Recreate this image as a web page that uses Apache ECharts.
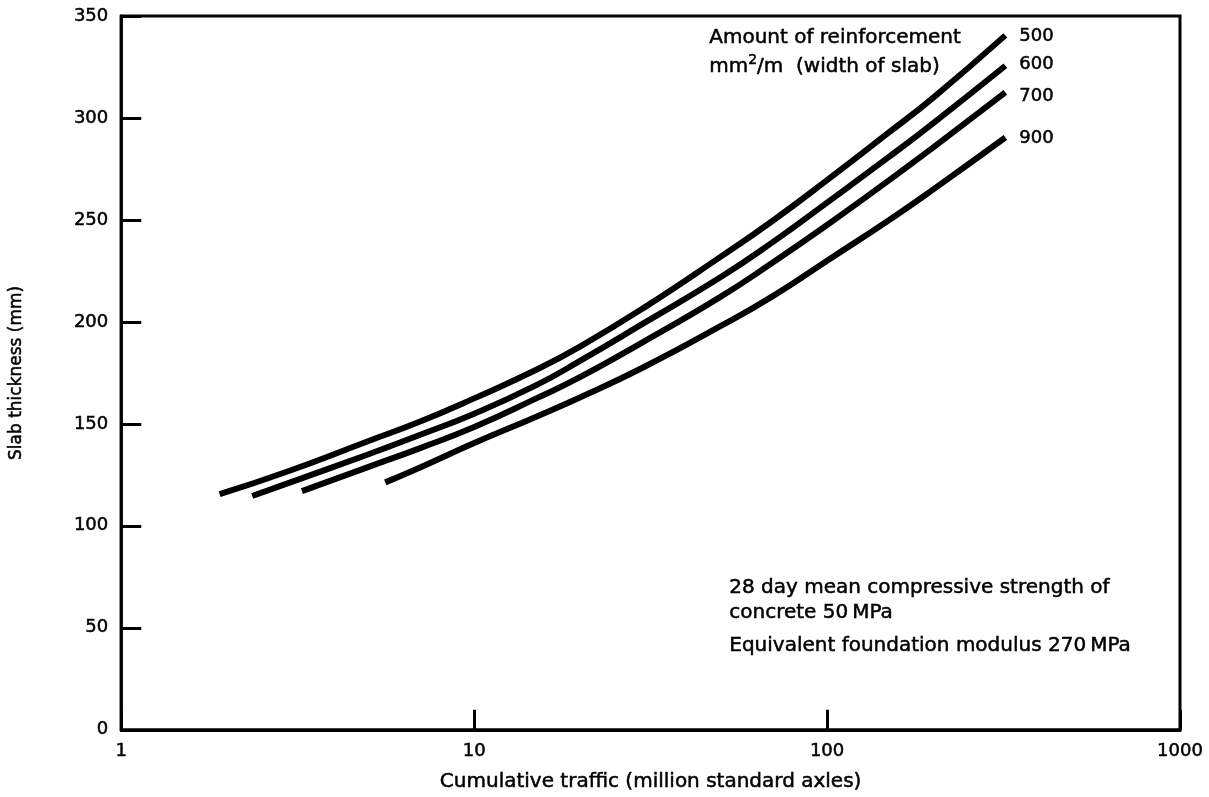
<!DOCTYPE html>
<html><head><meta charset="utf-8">
<script src="https://cdn.jsdelivr.net/npm/echarts@6/dist/echarts.min.js"></script>
<style>html,body{margin:0;padding:0;background:#fff}#c{width:1209px;height:797px}</style>
</head><body><div id="c"></div>
<script>
// Reinforcement amounts (mm2/m) — series names
const seriesNames = ['500', '600', '700', '900'];
// Cumulative traffic (million standard axles) and slab thickness (mm)
const traffic500 = [1.9, 3, 5, 7, 10, 15, 20, 30, 50, 70, 100, 150, 200, 320];
const thick500   = [115.5, 127, 141.5, 151, 162.5, 176.5, 188, 206.5, 232, 249.5, 269.5, 293, 310, 340.5];
const traffic600 = [2.35, 3, 5, 7, 10, 15, 20, 30, 50, 70, 100, 150, 200, 320];
const thick600   = [114.6, 121.2, 135, 144.5, 155, 169, 181, 199, 222, 239, 258.5, 281, 297.5, 325.6];
const traffic700 = [3.25, 5, 7, 10, 15, 20, 30, 50, 70, 100, 150, 200, 320];
const thick700   = [117, 128.8, 138, 148.5, 162.5, 173, 190, 212.4, 229, 247.5, 269.5, 285.6, 312.5];
const traffic900 = [5.6, 7, 10, 15, 20, 30, 50, 70, 100, 150, 200, 320];
const thick900   = [121.3, 128.5, 140.6, 153.5, 163, 177.5, 198, 212.5, 230, 250, 265, 290.4];
const xTickLabels = ['1', '10', '100', '1000'];
const yTickLabels = ['0', '50', '100', '150', '200', '250', '300', '350'];

const FONT = 'DejaVu Sans';
const traffics = [traffic500, traffic600, traffic700, traffic900];
const thicks = [thick500, thick600, thick700, thick900];
const labelOffsets = [[0, 1], [0, -1], [0, 4], [0, 1]];
const txt = {textBorderColor: '#000', textBorderWidth: 0.5};
const gtxt = {fill: '#000', stroke: '#000', lineWidth: 0.5};

const chart = echarts.init(document.getElementById('c'), null, {renderer: 'canvas'});
chart.setOption({
  backgroundColor: '#fff',
  animation: false,
  textStyle: {fontFamily: FONT, color: '#000'},
  grid: {left: 120, right: 29, top: 16, bottom: 67, show: true, borderColor: '#000', borderWidth: 3},
  xAxis: {
    type: 'log', logBase: 10, min: 1, max: 1000,
    name: 'Cumulative traffic (million standard axles)',
    nameLocation: 'middle', nameGap: 42,
    nameTextStyle: Object.assign({fontFamily: FONT, fontSize: 20, color: '#000'}, txt),
    axisLine: {show: true, lineStyle: {color: '#000', width: 3}},
    axisTick: {show: true, inside: true, length: 20, lineStyle: {color: '#000', width: 3}},
    splitLine: {show: false},
    minorTick: {show: false},
    axisLabel: Object.assign({
      margin: 13, fontSize: 18, fontFamily: FONT, color: '#000',
      formatter: v => xTickLabels[Math.round(Math.log10(v))]
    }, txt)
  },
  yAxis: {
    type: 'value', min: 0, max: 350, interval: 50,
    name: 'Slab thickness (mm)',
    nameLocation: 'middle', nameGap: 96,
    nameTextStyle: Object.assign({fontFamily: FONT, fontSize: 17, color: '#000'}, txt),
    axisLine: {show: true, lineStyle: {color: '#000', width: 3}},
    axisTick: {show: true, inside: true, length: 20, lineStyle: {color: '#000', width: 3}},
    splitLine: {show: false},
    axisLabel: Object.assign({
      margin: 13, fontSize: 18, fontFamily: FONT, color: '#000',
      formatter: v => yTickLabels[Math.round(v / 50)]
    }, txt)
  },
  series: seriesNames.map((n, i) => ({
    name: n,
    type: 'line',
    data: traffics[i].map((x, j) => [x, thicks[i][j]]),
    showSymbol: false,
    smooth: 0.5,
    lineStyle: {color: '#000', width: 6, cap: 'butt'},
    endLabel: Object.assign({
      show: true, formatter: '{a}', distance: 14, offset: labelOffsets[i],
      fontFamily: FONT, fontSize: 18, color: '#000'
    }, txt),
    silent: true
  })),
  graphic: [
    {type: 'text', left: 709, top: 28, style: Object.assign({text: 'Amount of reinforcement', font: '20px "DejaVu Sans"'}, gtxt)},
    {type: 'text', left: 709, top: 53, style: {
      text: '{n|mm}{s|2}{n|/m  (width of slab)}',
      rich: {
        n: Object.assign({fontFamily: FONT, fontSize: 20, lineHeight: 24, verticalAlign: 'bottom'}, gtxt),
        s: Object.assign({fontFamily: FONT, fontSize: 14, lineHeight: 24, verticalAlign: 'top'}, gtxt)
      }
    }},
    {type: 'text', left: 729, top: 578, style: Object.assign({text: '28 day mean compressive strength of', font: '20px "DejaVu Sans"'}, gtxt)},
    {type: 'text', left: 729, top: 603, style: Object.assign({text: 'concrete 50\u2009MPa', font: '20px "DejaVu Sans"'}, gtxt)},
    {type: 'text', left: 729, top: 636, style: Object.assign({text: 'Equivalent foundation modulus 270\u2009MPa', font: '20px "DejaVu Sans"'}, gtxt)}
  ]
});
</script>
</body></html>
